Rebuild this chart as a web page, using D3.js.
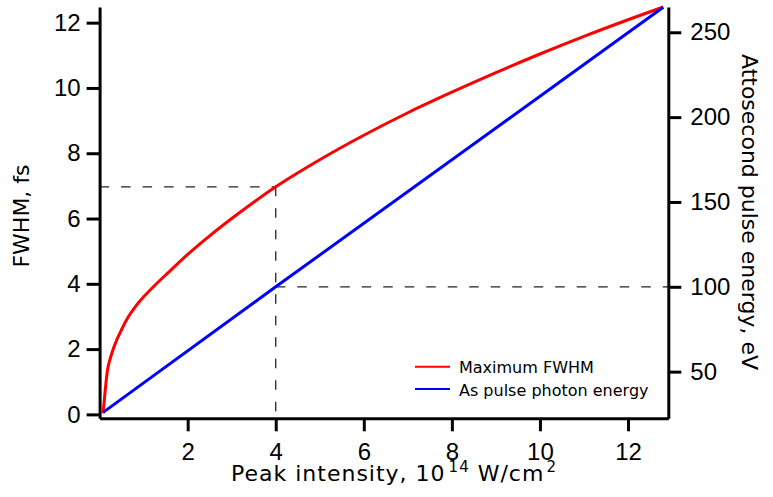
<!DOCTYPE html>
<html>
<head>
<meta charset="utf-8">
<script src="https://cdn.jsdelivr.net/npm/d3@7"></script>
<style>
  html, body { margin: 0; padding: 0; background: #fff; }
  svg { display: block; font-family: "DejaVu Sans", Verdana, sans-serif; }
  .axis path, .axis line { stroke: #000; stroke-width: 3; }
  .axis text { font-size: 24px; fill: #000; }
  .title { font-size: 22px; fill: #000; }
  .legend text { font-size: 16px; fill: #000; }
</style>
</head>
<body>
<svg id="chart" width="773" height="497"></svg>
<script>
// Peak laser intensity (10^14 W/cm^2) and the maximum attosecond pulse FWHM (fs)
const fwhmIntensity = [0.08, 0.18, 0.25, 0.35, 0.5, 0.65, 0.8, 1.0, 1.25, 1.5, 2.0, 2.5, 3.0, 3.5, 4.0, 5.0, 6.0, 7.0, 8.0, 9.0, 10.0, 11.0, 12.0, 12.8];
const fwhmValues    = [0.03, 1.36, 1.75, 2.15, 2.6, 2.98, 3.28, 3.6, 3.95, 4.27, 4.9, 5.47, 6.0, 6.5, 6.97, 7.8, 8.55, 9.24, 9.87, 10.47, 11.04, 11.58, 12.09, 12.48];

// Attosecond pulse photon energy (eV) versus peak intensity
const energyIntensity = [0.08, 4.0, 12.8];
const energyValues    = [26.0, 100, 264.7];

// Reference point marked with dashed guides
const markIntensity = 4;
const markFwhm = 6.97;
const markEnergy = 100;

// Axis ticks
const xTicks = [2, 4, 6, 8, 10, 12];
const yLeftTicks = [0, 2, 4, 6, 8, 10, 12];
const yRightTicks = [50, 100, 150, 200, 250];

const seriesNames = ["Maximum FWHM", "As pulse photon energy"];
const seriesColors = ["#ff0000", "#0000ff"];

const svg = d3.select("#chart");
const plotLeft = 99.6, plotRight = 668.3, plotTop = 7, plotBottom = 418.3;

const x = d3.scaleLinear().domain([0, 12.915]).range([plotLeft, plotRight]);
const yL = d3.scaleLinear().domain([-0.12, 12.48]).range([plotBottom, plotTop]);
const yR = d3.scaleLinear().domain([22.5, 264.9]).range([plotBottom, plotTop]);

// Dashed guide lines through the marked point
const guides = svg.append("g")
  .attr("fill", "none")
  .attr("stroke", "#222")
  .attr("stroke-width", 1.3)
  .attr("stroke-dasharray", "9.5,12");
guides.append("line")
  .attr("x1", x(0)).attr("x2", x(markIntensity))
  .attr("y1", yL(markFwhm)).attr("y2", yL(markFwhm));
guides.append("line")
  .attr("x1", x(markIntensity)).attr("x2", x(markIntensity))
  .attr("y1", yL(markFwhm)).attr("y2", plotBottom);
guides.append("line")
  .attr("x1", x(markIntensity)).attr("x2", plotRight)
  .attr("y1", yR(markEnergy)).attr("y2", yR(markEnergy));

// Curves
const fwhmLine = d3.line()
  .x(d => x(d[0])).y(d => yL(d[1]))
  .curve(d3.curveMonotoneX);
const energyLine = d3.line()
  .x(d => x(d[0])).y(d => yR(d[1]));

svg.append("path")
  .datum(d3.zip(fwhmIntensity, fwhmValues))
  .attr("d", fwhmLine)
  .attr("fill", "none")
  .attr("stroke", seriesColors[0])
  .attr("stroke-width", 3)
  .attr("stroke-linejoin", "round");

svg.append("path")
  .datum(d3.zip(energyIntensity, energyValues))
  .attr("d", energyLine)
  .attr("fill", "none")
  .attr("stroke", seriesColors[1])
  .attr("stroke-width", 3)
  .attr("stroke-linejoin", "round");

// Axes
svg.append("g").attr("class", "axis")
  .attr("transform", `translate(0,${plotBottom})`)
  .call(d3.axisBottom(x).tickValues(xTicks).tickFormat(d3.format("d"))
    .tickSize(13).tickSizeOuter(0).tickPadding(12));

svg.append("g").attr("class", "axis")
  .attr("transform", `translate(${plotLeft},0)`)
  .call(d3.axisLeft(yL).tickValues(yLeftTicks).tickFormat(d3.format("d"))
    .tickSize(13).tickSizeOuter(0).tickPadding(6));

svg.append("g").attr("class", "axis")
  .attr("transform", `translate(${plotRight},0)`)
  .call(d3.axisRight(yR).tickValues(yRightTicks).tickFormat(d3.format("d"))
    .tickSize(13).tickSizeOuter(0).tickPadding(9));

svg.selectAll(".axis text").attr("font-family", null);
svg.selectAll(".axis").attr("font-size", null);

// Axis titles
const xTitle = svg.append("text").attr("class", "title")
  .style("letter-spacing", "1px")
  .attr("x", 231).attr("y", 481);
xTitle.append("tspan").text("Peak intensity, 10");
xTitle.append("tspan").attr("dx", 3).attr("dy", -9).style("font-size", "15px").text("14");
xTitle.append("tspan").attr("dy", 9).text(" W/cm");
xTitle.append("tspan").attr("dx", 2).attr("dy", -9).style("font-size", "15px").text("2");

svg.append("text").attr("class", "title")
  .attr("transform", `translate(29,216) rotate(-90)`)
  .attr("text-anchor", "middle")
  .text("FWHM, fs");

svg.append("text").attr("class", "title")
  .attr("transform", `translate(742,212) rotate(90)`)
  .attr("text-anchor", "middle")
  .text("Attosecond pulse energy, eV");

// Legend
const legend = svg.append("g").attr("class", "legend");
const legendY = [366.7, 389];
seriesNames.forEach((name, i) => {
  legend.append("line")
    .attr("x1", 415).attr("x2", 450)
    .attr("y1", legendY[i]).attr("y2", legendY[i])
    .attr("stroke", seriesColors[i]).attr("stroke-width", 2);
  legend.append("text")
    .attr("x", 459).attr("y", legendY[i] + 6.5)
    .text(name);
});
</script>
</body>
</html>
